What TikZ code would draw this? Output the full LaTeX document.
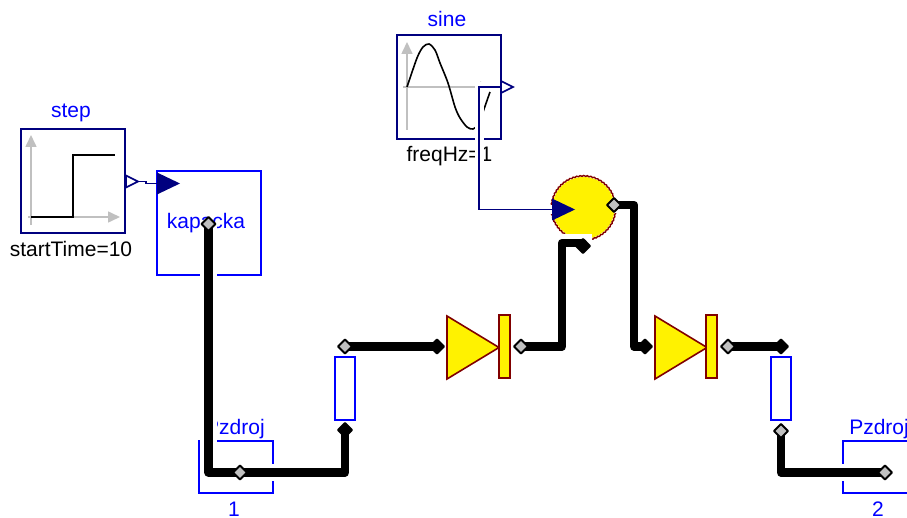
\documentclass[tikz,border=0pt]{standalone}
\usepackage{fontspec}
\setmainfont{Liberation Sans}
\usetikzlibrary{shapes.geometric,decorations.pathmorphing,arrows.meta}
\definecolor{wirenavy}{RGB}{0,0,127}
\definecolor{diodered}{RGB}{128,0,0}
\definecolor{axisgray}{RGB}{192,192,192}
\tikzset{
  blockname/.style={text=blue,font=\fontsize{21}{23}\selectfont,inner sep=0pt},
  blockpar/.style={text=black,font=\fontsize{21}{23}\selectfont,inner sep=0pt},
  srcbox/.style={draw=wirenavy,line width=1.8pt,minimum size=104pt,inner sep=0pt,outer sep=0pt},
  res/.style={draw=blue,line width=1.8pt,minimum width=20pt,minimum height=63pt,inner sep=0pt,outer sep=0pt},
  port/.style={diamond,draw=black,line width=2pt,line join=round,fill=axisgray,minimum size=14pt,inner sep=0pt,outer sep=0pt},
  portb/.style={port,fill=black},
  tri/.style={isosceles triangle,isosceles triangle stretches,inner sep=0pt,outer sep=0pt,anchor=lower side},
  inp/.style={tri,fill=wirenavy,minimum width=22pt,minimum height=23pt},
  outp/.style={tri,draw=wirenavy,fill=white,line width=1.6pt,minimum width=12pt,minimum height=12pt},
  diode/.style={tri,draw=diodered,fill=yellow,line width=1.6pt,minimum width=63pt,minimum height=52pt},
  diodebar/.style={draw=diodered,fill=yellow,line width=1.6pt,minimum width=11pt,minimum height=63pt,inner sep=0pt,outer sep=0pt},
  halo/.style={white,line width=17pt},
  power/.style={black,line width=8.5pt,line join=round},
  wirehalo/.style={white,line width=9pt},
  wire/.style={wirenavy,line width=1.8pt},
  axis/.style={axisgray,line width=1.6pt,-{Triangle[length=12pt,width=11pt]}},
  curve/.style={black,line width=1.6pt}
}
\begin{document}
\begin{tikzpicture}[x=1pt,y=-1pt]
    \useasboundingbox (0,0) rectangle (907,518);

    % step
    \node[srcbox] (step) at (73,181) {};
    \node[blockname] (stepname) at (71,113) {step};
    \node[blockpar] (steppar) at (71,249) {startTime=10};
    \draw[axis] (31,225) -- (31,135);
    \draw[axis] (28,217) -- (120,217);
    \draw[curve] (31,217) -- (73,217) -- (73,155) -- (115,155);

    % sine
    \node[srcbox] (sine) at (449,87) {};
    \node[blockname] (sinename) at (447,19) {sine};
    \node[blockpar] (sinepar) at (449.5,156) {freqHz=1};
    \draw[axis] (407,130) -- (407,42);
    \draw[axis] (403,87) -- (492,87);
    \draw[curve] plot[smooth] coordinates {(407,87) (417,58) (423,47) (429,44) (435,50)
      (440,63) (448,83) (455,107) (460,118) (467,127) (473,129) (479,124) (483,112) (490,92)};

    % kapacka
    \node[draw=blue,line width=1.8pt,minimum size=104pt,inner sep=0pt,outer sep=0pt] (kapacka) at (209,223) {};
    \node[blockname] (kapname) at (206,223) {kapacka};

    % zdroje
    \draw[blue,line width=1.8pt] (273,441) -- (199,441) -- (199,493) -- (273,493) -- cycle;
    \node[blockname] (pz1name) at (235,429) {Pzdroj};
    \node[blockname] (pz1num) at (234,509) {1};
    \draw[blue,line width=1.8pt] (915,441) -- (843,441) -- (843,493) -- (915,493);
    \node[blockname] (pz2name) at (879,429) {Pzdroj};
    \node[blockname] (pz2num) at (878,509) {2};

    % odpory
    \node[res] (r1) at (345,388.5) {};
    \node[res] (r2) at (781,388.5) {};

    % diody
    \node[diode] (d1) at (447,347.5) {};
    \node[diodebar] (b1) at (504.5,346.5) {};
    \node[diode] (d2) at (655,347.5) {};
    \node[diodebar] (b2) at (711.5,346.5) {};

    % nasobicka
    \node[circle,fill=yellow,minimum size=62pt,inner sep=0pt,outer sep=0pt] (mult) at (583.5,208) {};
    \draw[diodered,line width=1.4pt,decorate,decoration={bumps,segment length=7pt,amplitude=1pt}] (mult.center) circle (31.5);

    % porty
    \coordinate (kapin) at (157,183.5);
    \coordinate (multin) at (552,209.5);
    \coordinate (stepout) at (126,181.5);
    \coordinate (sineout) at (501,87);
    \coordinate (stepj) at (146,181.5);
    \coordinate (stepk) at (146,183.5);
    \coordinate (sinej) at (479,87);
    \coordinate (sinek) at (479,209.5);

    \coordinate (kapp) at (208.5,224);
    \coordinate (pz1p) at (240,472.5);
    \coordinate (r1b) at (345,430);
    \coordinate (r1a) at (345,346.5);
    \coordinate (d1a) at (437,346.5);
    \coordinate (d1k) at (521,346.5);
    \coordinate (mulb) at (583,246);
    \coordinate (mula) at (614,205);
    \coordinate (d2a) at (645,346.5);
    \coordinate (d2k) at (728,346.5);
    \coordinate (r2a) at (781,346.5);
    \coordinate (r2b) at (781,431);
    \coordinate (pz2p) at (885,472.5);

    % vedeni
    \draw[wirehalo] (sineout) -- (sinej) -- (sinek) -- (multin);
    \draw[wire] (sineout) -- (sinej) -- (sinek) -- (multin);
    \draw[wire] (stepout) -- (stepj) -- (stepk) -- (kapin);

    \foreach \st in {halo,power} {
      \draw[\st] (kapp) |- (pz1p) -- (pz1p -| r1b) -- (r1b);
      \draw[\st] (r1a) -- (d1a);
      \draw[\st] (d1k) -- (562,346.5) -- (562,243) -- (583,243) -- (mulb);
      \draw[\st] (mula) -- (634,205) -- (634,346.5) -- (d2a);
      \draw[\st] (d2k) -- (r2a);
      \draw[\st] (r2b) |- (pz2p);
    }

    \node[outp] (stepoutp) at (stepout) {};
    \node[outp] (sineoutp) at (sineout) {};
    \node[inp] (kapinp) at (kapin) {};
    \node[inp] (multinp) at (multin) {};

    \node[port] (kapport) at (kapp) {};
    \node[port] (pz1port) at (pz1p) {};
    \node[portb] (r1bport) at (r1b) {};
    \node[port] (r1aport) at (r1a) {};
    \node[portb] (d1aport) at (d1a) {};
    \node[port] (d1kport) at (d1k) {};
    \node[portb] (mulbport) at (mulb) {};
    \node[port] (mulaport) at (mula) {};
    \node[portb] (d2aport) at (d2a) {};
    \node[port] (d2kport) at (d2k) {};
    \node[portb] (r2aport) at (r2a) {};
    \node[port] (r2bport) at (r2b) {};
    \node[port] (pz2port) at (pz2p) {};
\end{tikzpicture}
\end{document}
